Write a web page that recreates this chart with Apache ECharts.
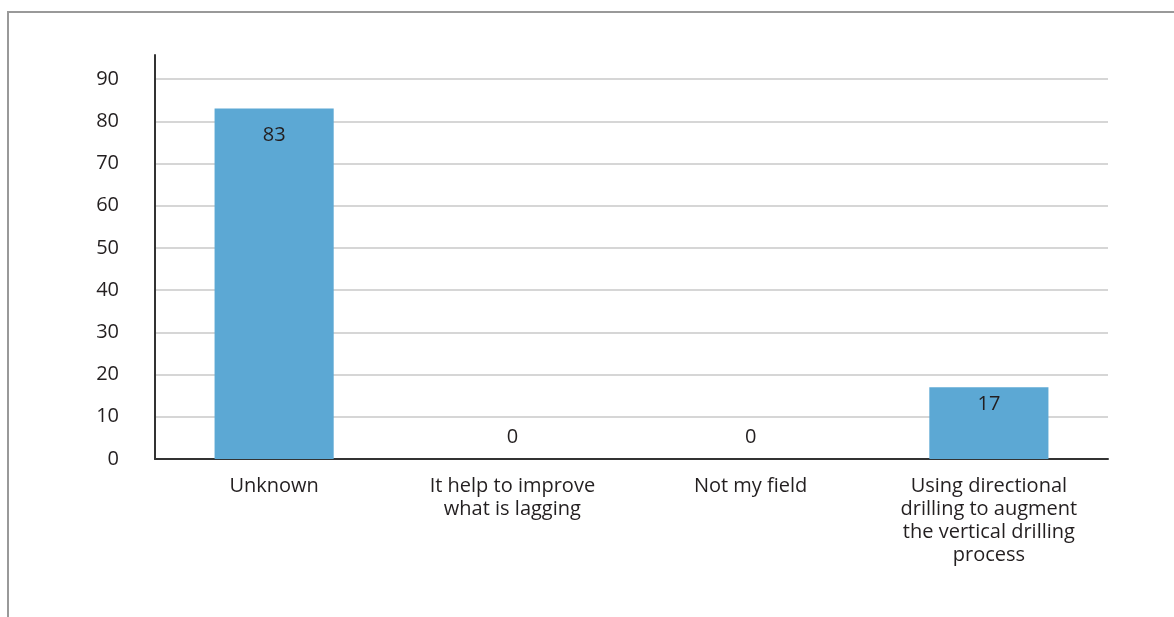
<!DOCTYPE html>
<html>
<head>
<meta charset="utf-8">
<script src="https://cdn.jsdelivr.net/npm/echarts@6/dist/echarts.min.js"></script>
<style>
  html, body { margin: 0; padding: 0; background: #fff; }
  #chart { width: 1174px; height: 617px; }
</style>
</head>
<body>
<div id="chart"></div>
<script>
// Survey responses per answer
const categories = [
  'Unknown',
  'It help to improve\nwhat is lagging',
  'Not my field',
  'Using directional\ndrilling to augment\nthe vertical drilling\nprocess'
];
const values = [83, 0, 0, 17];
const yTicks = [0, 10, 20, 30, 40, 50, 60, 70, 80, 90];

const textColor = '#231f20';
const fontFamily = '"Open Sans", "Noto Sans", sans-serif';
const fontSize = 20;

// Value labels sit inside the top of each bar; empty bars get them above the baseline
const barData = values.map(v => ({
  value: v,
  label: v === 0
    ? { position: 'top', distance: 12 }
    : { position: 'insideTop', distance: v > 50 ? 17 : 7 }
}));

const chart = echarts.init(document.getElementById('chart'), null, { renderer: 'canvas' });
chart.setOption({
  animation: false,
  backgroundColor: '#fff',
  graphic: [{
    type: 'polyline',
    shape: { points: [[8, 620], [8, 12], [1180, 12]] },
    style: { stroke: '#999', lineWidth: 2, fill: null },
    silent: true
  }],
  grid: { left: 155, right: 66, top: 55, bottom: 158, containLabel: false },
  xAxis: {
    type: 'category',
    data: categories,
    axisLine: { show: true, lineStyle: { color: '#333', width: 2 } },
    axisTick: { show: false },
    axisLabel: {
      color: textColor,
      fontFamily: fontFamily,
      fontSize: fontSize,
      lineHeight: 23,
      margin: 16,
      interval: 0,
      align: 'center'
    }
  },
  yAxis: {
    type: 'value',
    min: yTicks[0],
    max: 95.7,
    interval: 10,
    axisLine: { show: true, lineStyle: { color: '#333', width: 2 } },
    axisTick: { show: false },
    axisLabel: {
      color: textColor,
      fontFamily: fontFamily,
      fontSize: fontSize,
      margin: 36,
      showMaxLabel: false,
      formatter: v => (yTicks.includes(v) ? String(v) : '')
    },
    splitLine: {
      show: true,
      showMaxLine: false,
      lineStyle: { color: '#c8c8c8', width: 1.5 }
    }
  },
  series: [{
    type: 'bar',
    data: barData,
    barWidth: '50%',
    itemStyle: { color: '#5ca8d4' },
    label: {
      show: true,
      color: textColor,
      fontFamily: fontFamily,
      fontSize: fontSize
    }
  }]
});
</script>
</body>
</html>
